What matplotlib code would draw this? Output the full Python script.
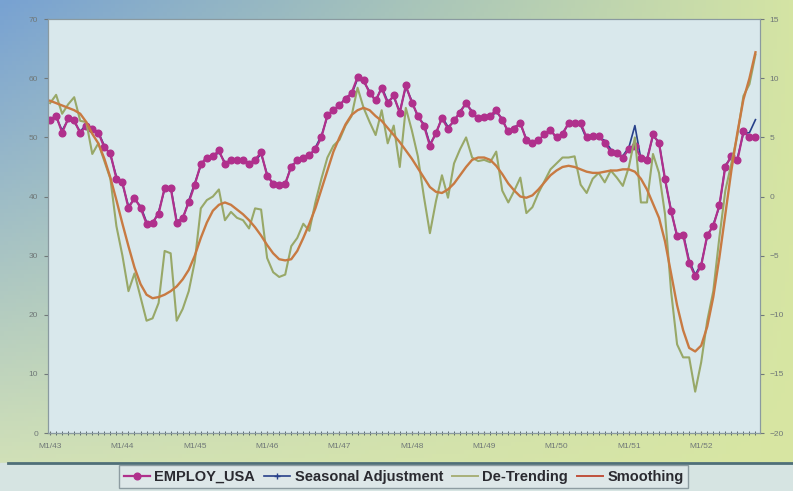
import numpy as np
import matplotlib
matplotlib.use("Agg")
import matplotlib.pyplot as plt
from matplotlib.lines import Line2D

plt.rcParams['font.family'] = ['Liberation Sans', 'DejaVu Sans']

# monthly series, Jan 1943 onwards
employ_usa = [
    52.9, 53.7, 50.8, 53.2, 52.9, 50.7, 52.0, 51.5, 50.8, 48.3, 47.3, 43.0,
    42.4, 38.0, 39.8, 38.1, 35.4, 35.6, 37.1, 41.5, 41.5, 35.6, 36.4, 39.0,
    42.0, 45.5, 46.6, 46.8, 47.8, 45.5, 46.2, 46.2, 46.2, 45.5, 46.2, 47.5,
    43.5, 42.2, 41.9, 42.2, 45.0, 46.1, 46.6, 47.0, 48.0, 50.0, 53.8, 54.6,
    55.5, 56.5, 57.5, 60.2, 59.7, 57.5, 56.3, 58.3, 55.8, 57.1, 54.1, 58.8,
    55.9, 53.7, 52.0, 48.6, 50.8, 53.2, 51.5, 52.9, 54.2, 55.9, 54.2, 53.2,
    53.4, 53.7, 54.6, 52.9, 51.0, 51.5, 52.5, 49.5, 49.0, 49.5, 50.5, 51.2,
    50.0, 50.5, 52.5, 52.5, 52.4, 50.0, 50.3, 50.3, 49.0, 47.6, 47.3, 46.6,
    48.0, 48.5, 46.6, 46.1, 50.5, 49.0, 43.0, 37.5, 33.4, 33.5, 28.8, 26.5,
    28.3, 33.5, 35.0, 38.5, 45.0, 46.9, 46.1, 51.0, 50.0, 50.0,
]

seasonal_adj = [
    53.2, 53.4, 51.2, 53.0, 52.6, 51.0, 52.2, 51.3, 50.9, 48.6, 47.0, 43.4,
    42.1, 38.4, 39.5, 38.4, 35.7, 35.4, 37.4, 41.2, 41.7, 35.9, 36.2, 39.3,
    42.3, 45.2, 46.8, 46.6, 47.5, 45.8, 46.0, 46.4, 46.0, 45.8, 46.0, 47.2,
    43.8, 42.0, 42.1, 42.0, 45.3, 45.9, 46.8, 46.8, 48.3, 50.3, 53.5, 54.8,
    55.2, 56.8, 57.2, 59.9, 59.4, 57.8, 56.0, 58.6, 56.1, 56.8, 54.4, 58.5,
    56.2, 53.4, 52.3, 48.9, 50.5, 53.5, 51.8, 52.6, 54.5, 55.6, 54.5, 53.0,
    53.7, 53.4, 54.3, 53.2, 50.7, 51.8, 52.2, 49.8, 48.8, 49.8, 50.2, 51.5,
    49.7, 50.8, 52.2, 52.8, 52.1, 49.7, 50.6, 50.0, 49.5, 48.0, 47.0, 46.9,
    48.3, 52.0, 46.3, 46.4, 50.2, 49.3, 42.7, 37.8, 33.1, 33.8, 29.2, 26.8,
    28.6, 33.2, 35.3, 38.2, 45.3, 46.6, 46.5, 50.7, 50.8, 53.0,
]

de_trending = [
    7.9, 8.6, 7.0, 7.8, 8.4, 6.4, 6.3, 3.6, 4.5, 3.0, 1.5, -2.5,
    -5.0, -8.0, -6.5, -8.5, -10.5, -10.3, -9.0, -4.6, -4.8, -10.5, -9.5, -8.0,
    -5.5, -1.0, -0.3, 0.0, 0.6, -2.0, -1.3, -1.8, -2.0, -2.7, -1.0, -1.1,
    -5.2, -6.4, -6.8, -6.6, -4.2, -3.5, -2.3, -2.9, -0.5, 1.5, 3.3, 4.3,
    4.8, 6.0, 6.8, 9.2, 7.5, 6.3, 5.2, 7.3, 4.5, 6.0, 2.5, 7.5,
    5.6, 3.4, 0.0, -3.1, -0.4, 1.8, -0.1, 2.8, 4.0, 5.0, 3.3, 3.0,
    3.1, 2.9, 3.8, 0.5, -0.5, 0.5, 1.6, -1.4, -0.9, 0.3, 1.3, 2.3,
    2.8, 3.3, 3.3, 3.4, 1.0, 0.3, 1.5, 2.0, 1.2, 2.2, 1.6, 0.9,
    2.5, 5.0, -0.5, -0.5, 3.6, 2.0, -1.5, -8.0, -12.5, -13.6, -13.6, -16.5,
    -14.0, -10.5, -8.0, -3.5, 0.5, 2.8, 5.2, 8.5, 9.5, 12.0,
]

smoothing = [
    8.1, 7.9, 7.7, 7.5, 7.3, 7.0, 6.3, 5.3, 4.5, 3.2, 1.6, -0.3,
    -2.3, -4.2, -6.0, -7.4, -8.3, -8.6, -8.5, -8.3, -8.0, -7.6, -7.0, -6.2,
    -5.0, -3.5, -2.2, -1.2, -0.7, -0.5, -0.7, -1.1, -1.5, -2.0, -2.6, -3.3,
    -4.1, -4.8, -5.3, -5.4, -5.3, -4.6, -3.5, -2.3, -1.0, 0.6, 2.2, 3.8,
    5.0, 6.1, 6.9, 7.3, 7.5, 7.3, 6.8, 6.4, 5.8, 5.2, 4.6, 3.9,
    3.2, 2.4, 1.6, 0.8, 0.4, 0.3, 0.6, 1.1, 1.8, 2.5, 3.1, 3.3,
    3.3, 3.1, 2.6, 1.9, 1.1, 0.5, 0.0, -0.1, 0.1, 0.6, 1.2, 1.8,
    2.2, 2.5, 2.6, 2.5, 2.3, 2.1, 2.0, 2.0, 2.1, 2.2, 2.2, 2.3,
    2.3, 2.1, 1.5, 0.6, -0.6, -1.8, -3.8, -6.5, -9.2, -11.3, -12.8, -13.1,
    -12.6, -11.0, -8.5, -5.2, -1.5, 2.2, 5.4, 8.2, 10.0, 12.2,
]

year_labels = ['M1/43', 'M1/44', 'M1/45', 'M1/46', 'M1/47',
               'M1/48', 'M1/49', 'M1/50', 'M1/51', 'M1/52']

months = np.arange(len(employ_usa))

fig = plt.figure(figsize=(7.93, 4.91), dpi=100)

# backdrop: blue on the top left fading to yellow-green
bg = fig.add_axes([0, 0, 1, 1], zorder=-10)
bg.axis('off')
tl = np.array([0x78, 0xa2, 0xd2]) / 255
tr = np.array([0xd4, 0xe4, 0xa4]) / 255
bl = np.array([0xd6, 0xe4, 0xb6]) / 255
br = np.array([0xd8, 0xe6, 0xa2]) / 255
u = np.linspace(0, 1, 200)[None, :, None]
v = np.linspace(0, 1, 120)[:, None, None]
grad = (1 - v) * ((1 - u) * tl + u * tr) + v * ((1 - u) * bl + u * br)
bg.imshow(grad, aspect='auto', extent=[0, 1, 0, 1])
bg.axhspan(0, 0.057, color='#d6e4e2')
bg.plot([0.01, 1], [0.057, 0.057], color='#4f6f78', lw=2)
bg.set_xlim(0, 1)
bg.set_ylim(0, 1)

ax = fig.add_axes([0.0605, 0.118, 0.8975, 0.843])
ax.set_facecolor('#d9e8ec')
ax2 = ax.twinx()

l1, = ax.plot(months, employ_usa, color='#b0308c', lw=1.6, marker='o',
              markersize=4.8, markerfacecolor='#b0308c',
              markeredgecolor='#b0308c', zorder=3)
l2, = ax.plot(months, seasonal_adj, color='#27408a', lw=1.2, zorder=2)
l3, = ax2.plot(months, de_trending, color='#98a868', lw=1.5, zorder=2)
l4, = ax2.plot(months, smoothing, color='#c87a42', lw=1.7, zorder=3)

ax.set_xlim(-0.35, 117.7)
ax.set_ylim(0, 70)
ax2.set_ylim(-20, 15)
ax.set_yticks(range(0, 71, 10))
ax2.set_yticks(range(-20, 16, 5))
ax.set_xticks(months[::12])
ax.set_xticklabels(year_labels)
ax.set_xticks(months, minor=True)

for a in (ax, ax2):
    for s in a.spines.values():
        s.set_color('#8a9aa0')
        s.set_linewidth(0.8)
ax.spines['bottom'].set_color('#4a5a60')
ax.tick_params(axis='y', labelsize=6, colors='#707878', length=3, pad=4)
ax2.tick_params(axis='y', labelsize=6, colors='#707878', length=3, pad=4)
ax.tick_params(axis='x', which='major', labelsize=6, colors='#707878',
               length=3, direction='inout', pad=6)
ax.tick_params(axis='x', which='minor', length=2.5, direction='inout',
               color='#4a5a60')

handles = [
    Line2D([], [], color='#b0308c', lw=1.6, marker='o', markersize=4.8),
    Line2D([], [], color='#27408a', lw=1.2, marker='+', markersize=5),
    Line2D([], [], color='#a8b078', lw=1.4),
    Line2D([], [], color='#c0503c', lw=1.4),
]
labels = ['EMPLOY_USA', 'Seasonal Adjustment', 'De-Trending', 'Smoothing']
leg = fig.legend(handles, labels, loc='center', ncol=4,
                 bbox_to_anchor=(0.509, 0.029),
                 prop={'size': 10.5, 'weight': 'bold'},
                 frameon=True, fancybox=False, handlelength=1.8,
                 handletextpad=0.3, columnspacing=0.6, borderpad=0.3)
leg.get_frame().set_facecolor('#dfe8ea')
leg.get_frame().set_edgecolor('#7a8a90')
for t in leg.get_texts():
    t.set_color('#2a2a30')

fig.savefig('out.png', dpi=100)
